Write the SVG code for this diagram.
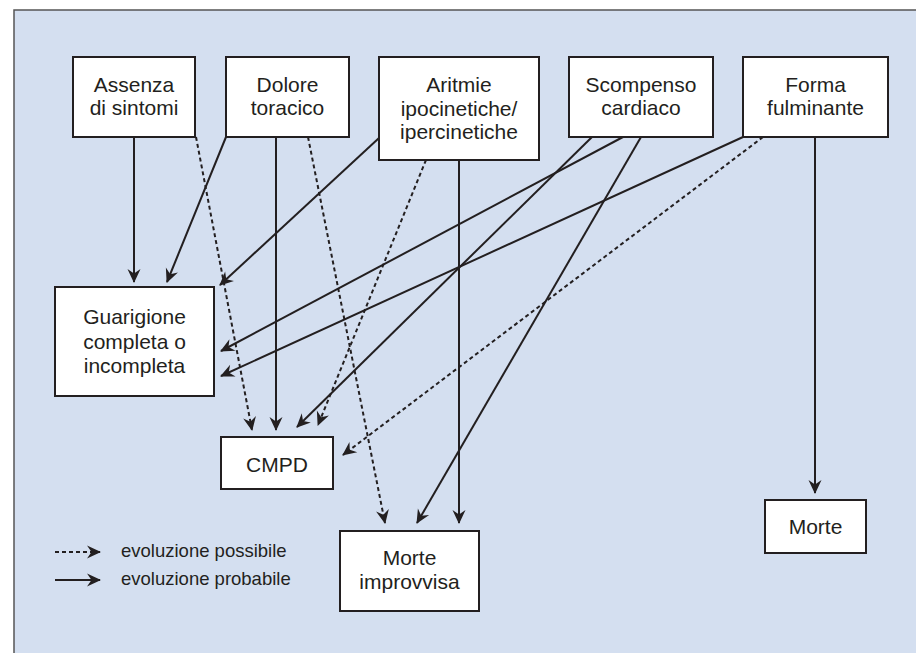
<svg xmlns="http://www.w3.org/2000/svg" width="916" height="653" viewBox="0 0 916 653">
<style>
.box{fill:#ffffff;stroke:#231f20;stroke-width:2}
.t{font-family:"Liberation Sans",Arial,sans-serif;font-size:21px;fill:#231f20;text-anchor:middle}
.lg{font-family:"Liberation Sans",Arial,sans-serif;font-size:18.5px;fill:#231f20}
.s{fill:none;stroke:#231f20;stroke-width:2;marker-end:url(#ah)}
.d{fill:none;stroke:#231f20;stroke-width:2;stroke-dasharray:4 3;marker-end:url(#ah)}
</style>
<defs>
<marker id="ah" markerUnits="userSpaceOnUse" markerWidth="16" markerHeight="14" refX="13" refY="6.5" orient="auto" overflow="visible">
<path d="M0,0 L14,6.5 L0,13 L4.5,6.5 Z" fill="#231f20"/>
</marker>
</defs>
<rect x="0" y="0" width="916" height="653" fill="#ffffff"/>
<rect x="14" y="10" width="940" height="680" fill="#d4dff0" stroke="#555555" stroke-width="1.5"/>

<g id="connectors">
<line class="s" x1="134" y1="137" x2="134" y2="282"/>
<line class="s" x1="226" y1="137" x2="167" y2="282"/>
<line class="d" x1="196" y1="137" x2="252" y2="430"/>
<line class="s" x1="276" y1="137" x2="276" y2="430"/>
<line class="d" x1="308" y1="137" x2="385" y2="523"/>
<line class="s" x1="379" y1="138" x2="220" y2="285"/>
<line class="d" x1="426" y1="160" x2="318" y2="425"/>
<line class="s" x1="459" y1="160" x2="459" y2="523"/>
<line class="s" x1="592" y1="137" x2="297" y2="427"/>
<line class="s" x1="623" y1="137" x2="221" y2="351"/>
<line class="s" x1="641" y1="137" x2="417" y2="523"/>
<line class="s" x1="743" y1="137" x2="221" y2="376"/>
<line class="d" x1="763" y1="137" x2="343" y2="455"/>
<line class="s" x1="815" y1="137" x2="815" y2="493"/>
</g>

<g id="n-assenza">
<rect class="box" x="73" y="57" width="122" height="80"/>
<text class="t" x="134" y="92">Assenza</text>
<text class="t" x="134" y="115">di sintomi</text>
</g>
<g id="n-dolore">
<rect class="box" x="226" y="57" width="123" height="80"/>
<text class="t" x="287.5" y="92">Dolore</text>
<text class="t" x="287.5" y="115">toracico</text>
</g>
<g id="n-aritmie">
<rect class="box" x="379" y="57" width="160" height="103"/>
<text class="t" x="459" y="92">Aritmie</text>
<text class="t" x="459" y="115.5">ipocinetiche/</text>
<text class="t" x="459" y="139">ipercinetiche</text>
</g>
<g id="n-scompenso">
<rect class="box" x="569" y="57" width="144" height="80"/>
<text class="t" x="641" y="92">Scompenso</text>
<text class="t" x="641" y="115">cardiaco</text>
</g>
<g id="n-forma">
<rect class="box" x="743" y="57" width="145" height="80"/>
<text class="t" x="815.5" y="92">Forma</text>
<text class="t" x="815.5" y="115">fulminante</text>
</g>
<g id="n-guarigione">
<rect class="box" x="55" y="287" width="159" height="109"/>
<text class="t" x="134.5" y="324">Guarigione</text>
<text class="t" x="134.5" y="348.5">completa o</text>
<text class="t" x="134.5" y="373">incompleta</text>
</g>
<g id="n-cmpd">
<rect class="box" x="221" y="437" width="112" height="52"/>
<text class="t" x="277" y="472">CMPD</text>
</g>
<g id="n-morte-improvvisa">
<rect class="box" x="340" y="531" width="139" height="80"/>
<text class="t" x="409.5" y="565">Morte</text>
<text class="t" x="409.5" y="589">improvvisa</text>
</g>
<g id="n-morte">
<rect class="box" x="765" y="500" width="101" height="53"/>
<text class="t" x="815.5" y="534">Morte</text>
</g>

<g id="legend">
<line class="d" x1="55" y1="552" x2="100" y2="552"/>
<text class="lg" x="121" y="557">evoluzione possibile</text>
<line class="s" x1="55" y1="580" x2="100" y2="580"/>
<text class="lg" x="121" y="585">evoluzione probabile</text>
</g>
</svg>
